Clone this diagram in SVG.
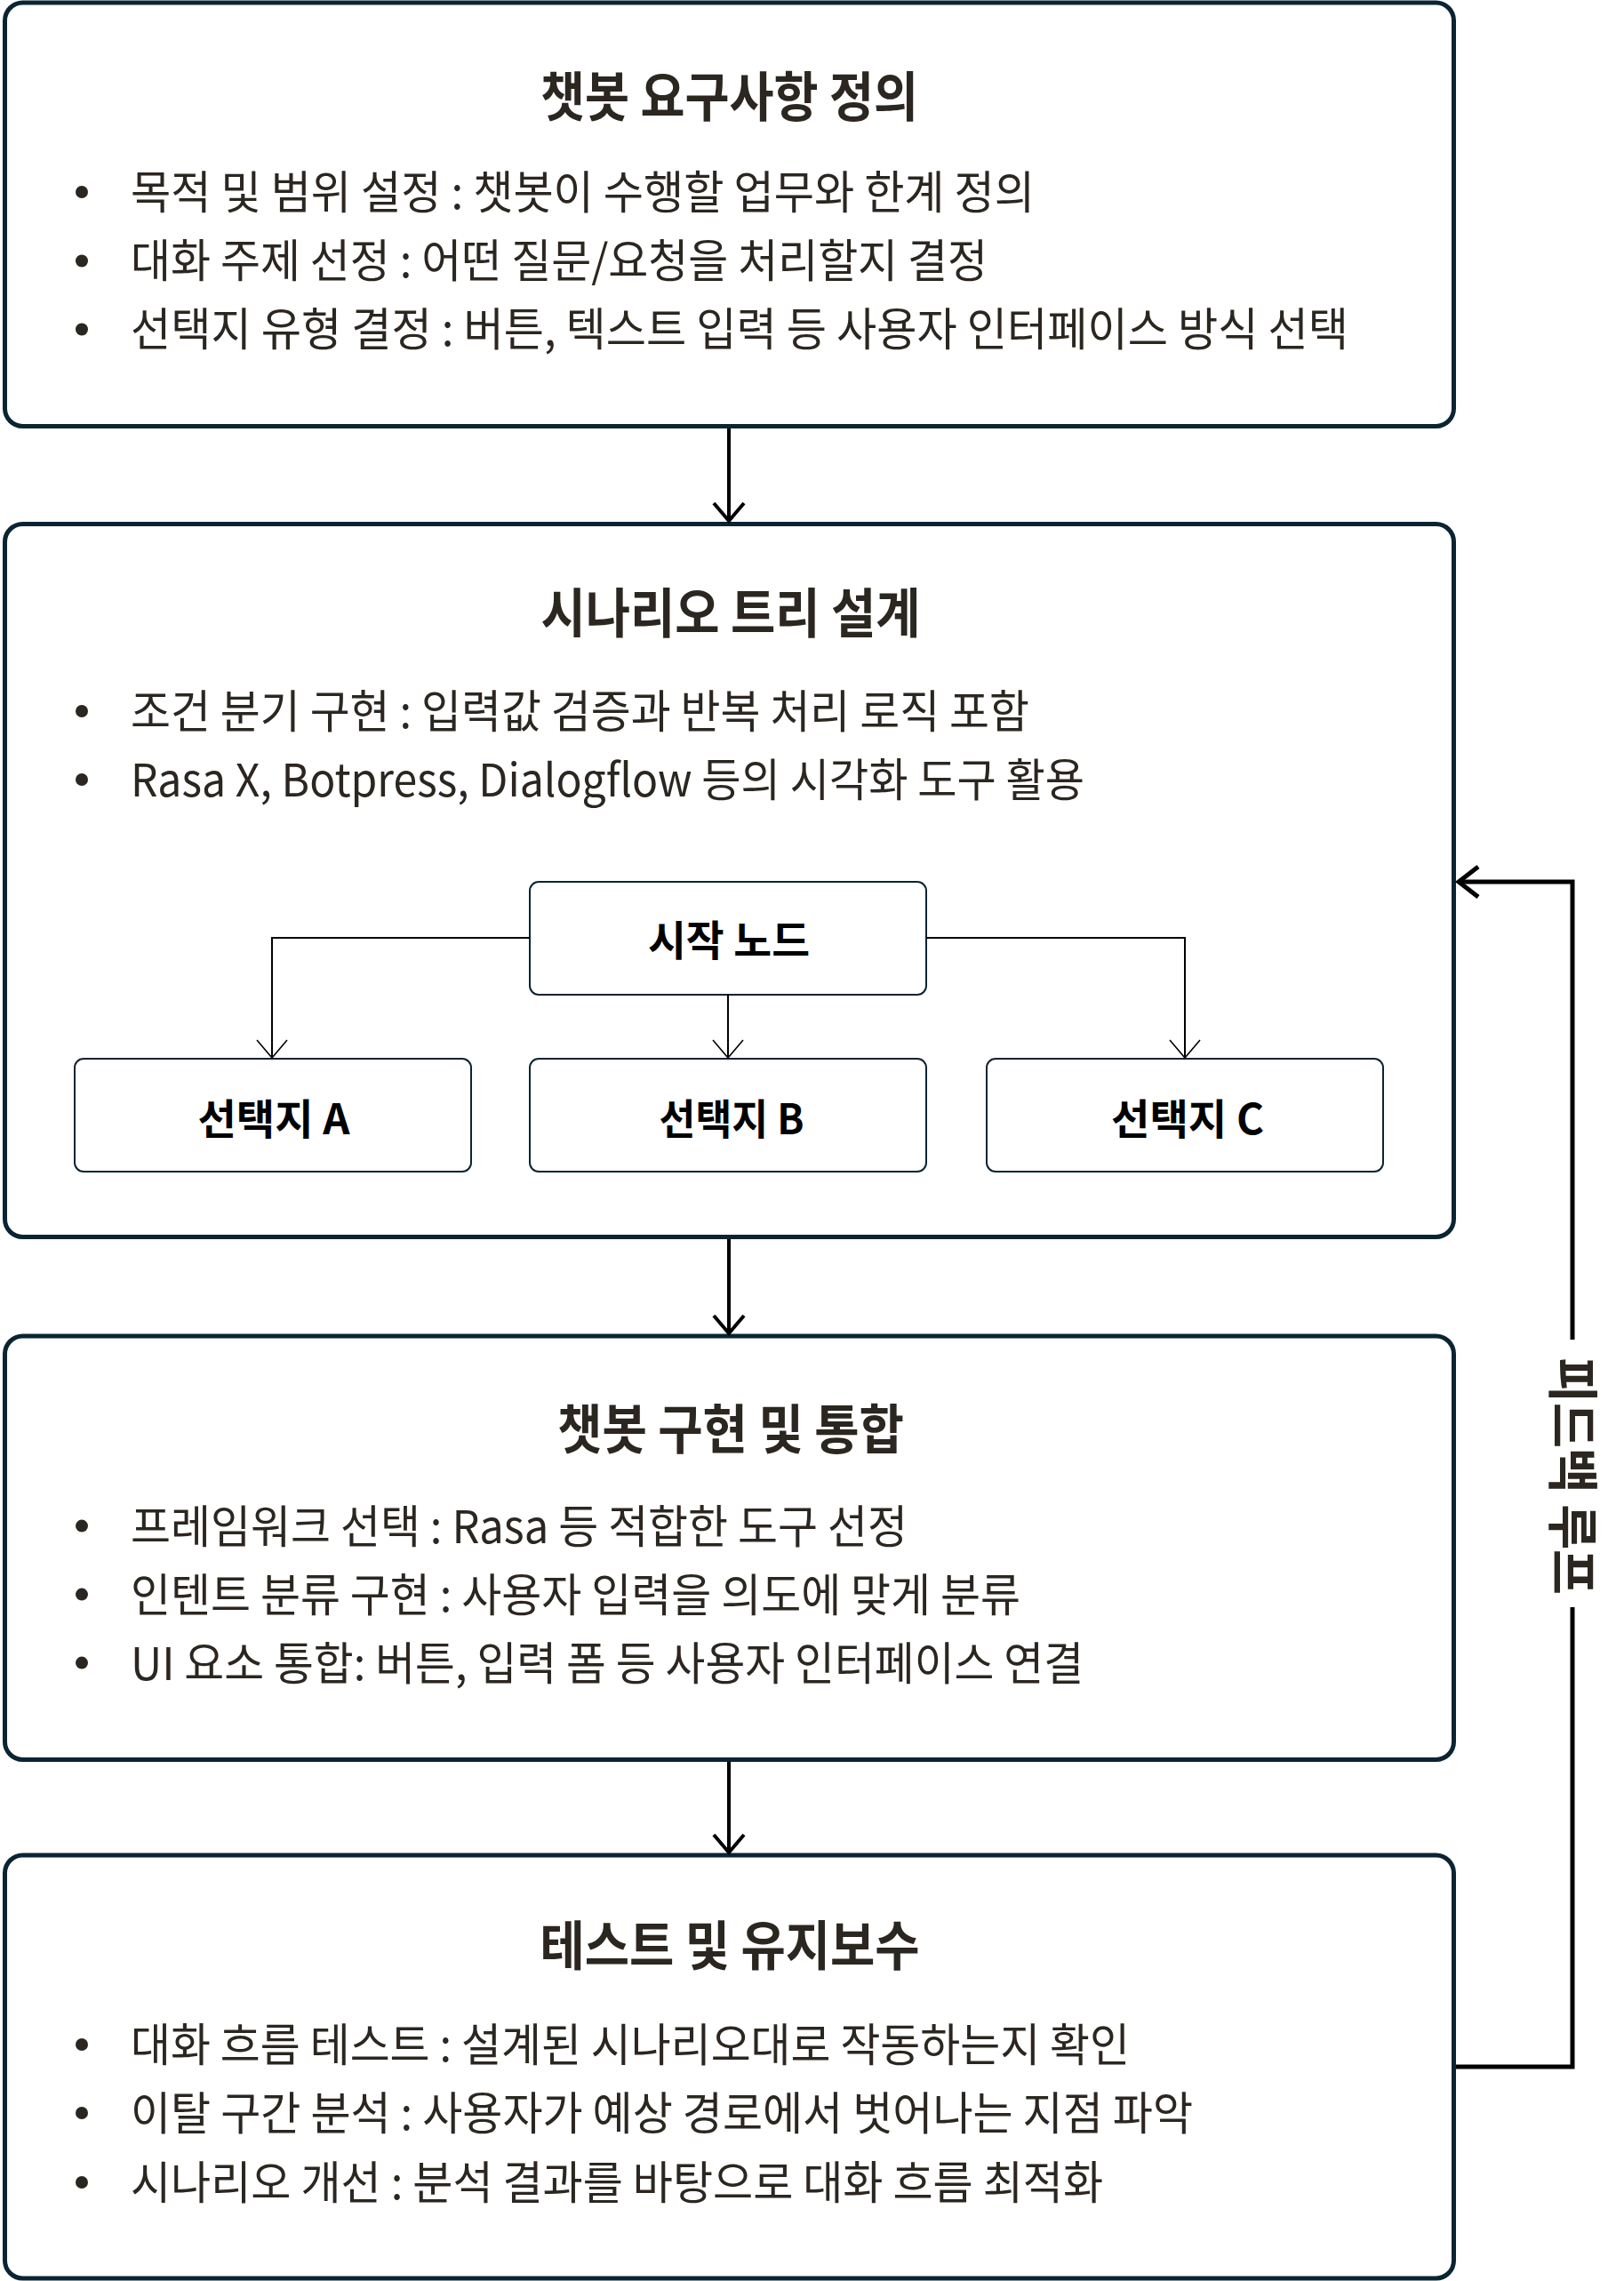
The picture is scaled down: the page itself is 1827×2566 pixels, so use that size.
<svg xmlns="http://www.w3.org/2000/svg" width="1827" height="2566" viewBox="0 0 1827 2566">
  <defs>
    <style>
      .box { fill: #ffffff; stroke: #0b2433; stroke-width: 5; }
      .sbox { fill: #ffffff; stroke: #0b2433; stroke-width: 2; }
      .title { font-family: "Noto Sans CJK KR", "Noto Sans", sans-serif; font-weight: 700; font-size: 60px; fill: #2b2620; text-anchor: middle; }
      .node { font-family: "Noto Sans CJK KR", "Noto Sans", sans-serif; font-weight: 700; font-size: 47px; fill: #000000; text-anchor: middle; }
      .body { font-family: "Noto Sans CJK KR", "Noto Sans", sans-serif; font-weight: 400; font-size: 51px; fill: #2b2620; }
      .label { font-family: "Noto Sans CJK KR", "Noto Sans", sans-serif; font-weight: 700; font-size: 58px; fill: #2b2620; text-anchor: middle; }
      .dot { fill: #2b2620; }
      .thick { stroke: #000000; stroke-width: 4; fill: none; }
      .thin { stroke: #000000; stroke-width: 2; fill: none; }
      .loop { stroke: #000000; stroke-width: 5; fill: none; }
    </style>
    <marker id="arrowThick" markerUnits="userSpaceOnUse" markerWidth="30" markerHeight="44" refX="24" refY="22" orient="auto" overflow="visible">
      <path d="M4,5 L24,22 L4,39" fill="none" stroke="#000000" stroke-width="4"/>
    </marker>
    <marker id="arrowThin" markerUnits="userSpaceOnUse" markerWidth="30" markerHeight="44" refX="22" refY="22" orient="auto" overflow="visible">
      <path d="M2,5 L22,22 L2,39" fill="none" stroke="#000000" stroke-width="1.6"/>
    </marker>
    <marker id="arrowLoop" markerUnits="userSpaceOnUse" markerWidth="30" markerHeight="44" refX="25" refY="22" orient="auto" overflow="visible">
      <path d="M3,5 L25,22 L3,39" fill="none" stroke="#000000" stroke-width="5"/>
    </marker>
  </defs>

  <rect x="0" y="0" width="1827" height="2566" fill="#ffffff"/>

  <g id="box-requirements">
    <rect class="box" x="5.5" y="3" width="1630" height="476.5" rx="20"/>
    <text class="title" x="820.5" y="131" textLength="425" lengthAdjust="spacingAndGlyphs">챗봇 요구사항 정의</text>
    <circle class="dot" cx="92" cy="216" r="7"/>
    <text class="body" x="147" y="235" textLength="1017" lengthAdjust="spacingAndGlyphs">목적 및 범위 설정 : 챗봇이 수행할 업무와 한계 정의</text>
    <circle class="dot" cx="92" cy="293.5" r="7"/>
    <text class="body" x="147" y="312" textLength="964" lengthAdjust="spacingAndGlyphs">대화 주제 선정 : 어떤 질문/요청을 처리할지 결정</text>
    <circle class="dot" cx="92" cy="370.5" r="7"/>
    <text class="body" x="147" y="389" textLength="1370" lengthAdjust="spacingAndGlyphs">선택지 유형 결정 : 버튼, 텍스트 입력 등 사용자 인터페이스 방식 선택</text>
  </g>

  <g id="box-scenario">
    <rect class="box" x="5.5" y="589.5" width="1630" height="802" rx="20"/>
    <text class="title" x="822" y="712" textLength="427" lengthAdjust="spacingAndGlyphs">시나리오 트리 설계</text>
    <circle class="dot" cx="92" cy="800" r="7"/>
    <text class="body" x="147" y="819" textLength="1011" lengthAdjust="spacingAndGlyphs">조건 분기 구현 : 입력값 검증과 반복 처리 로직 포함</text>
    <circle class="dot" cx="92" cy="877" r="7"/>
    <text class="body" x="147" y="896" textLength="1073" lengthAdjust="spacingAndGlyphs">Rasa X, Botpress, Dialogflow 등의 시각화 도구 활용</text>
  </g>

  <g id="node-start">
    <rect class="sbox" x="596" y="992" width="446" height="127" rx="10"/>
    <text class="node" x="820" y="1075" textLength="182" lengthAdjust="spacingAndGlyphs">시작 노드</text>
  </g>
  <g id="node-choice-a">
    <rect class="sbox" x="84" y="1191" width="446" height="127" rx="10"/>
    <text class="node" x="308" y="1276" textLength="171" lengthAdjust="spacingAndGlyphs">선택지 A</text>
  </g>
  <g id="node-choice-b">
    <rect class="sbox" x="596" y="1191" width="446" height="127" rx="10"/>
    <text class="node" x="823" y="1276" textLength="163" lengthAdjust="spacingAndGlyphs">선택지 B</text>
  </g>
  <g id="node-choice-c">
    <rect class="sbox" x="1110" y="1191" width="446" height="127" rx="10"/>
    <text class="node" x="1336" y="1276" textLength="172" lengthAdjust="spacingAndGlyphs">선택지 C</text>
  </g>

  <g id="box-implementation">
    <rect class="box" x="5.5" y="1503" width="1630" height="476.5" rx="20"/>
    <text class="title" x="822" y="1630" textLength="390" lengthAdjust="spacingAndGlyphs">챗봇 구현 및 통합</text>
    <circle class="dot" cx="92" cy="1716.6" r="7"/>
    <text class="body" x="147" y="1735.6" textLength="874" lengthAdjust="spacingAndGlyphs">프레임워크 선택 : Rasa 등 적합한 도구 선정</text>
    <circle class="dot" cx="92" cy="1793.6" r="7"/>
    <text class="body" x="147" y="1812.6" textLength="1001" lengthAdjust="spacingAndGlyphs">인텐트 분류 구현 : 사용자 입력을 의도에 맞게 분류</text>
    <circle class="dot" cx="92" cy="1870.6" r="7"/>
    <text class="body" x="147" y="1889.6" textLength="1072" lengthAdjust="spacingAndGlyphs">UI 요소 통합: 버튼, 입력 폼 등 사용자 인터페이스 연결</text>
  </g>

  <g id="box-testing">
    <rect class="box" x="5.5" y="2087" width="1630" height="476" rx="20"/>
    <text class="title" x="821" y="2211" textLength="427" lengthAdjust="spacingAndGlyphs">테스트 및 유지보수</text>
    <circle class="dot" cx="92" cy="2300" r="7"/>
    <text class="body" x="147" y="2319" textLength="1124" lengthAdjust="spacingAndGlyphs">대화 흐름 테스트 : 설계된 시나리오대로 작동하는지 확인</text>
    <circle class="dot" cx="92" cy="2377" r="7"/>
    <text class="body" x="147" y="2396" textLength="1195" lengthAdjust="spacingAndGlyphs">이탈 구간 분석 : 사용자가 예상 경로에서 벗어나는 지점 파악</text>
    <circle class="dot" cx="92" cy="2455" r="7"/>
    <text class="body" x="147" y="2474" textLength="1094" lengthAdjust="spacingAndGlyphs">시나리오 개선 : 분석 결과를 바탕으로 대화 흐름 최적화</text>
  </g>

  <g id="connectors">
    <line class="thick" x1="820" y1="482" x2="820" y2="586" marker-end="url(#arrowThick)"/>
    <line class="thick" x1="820" y1="1394" x2="820" y2="1500" marker-end="url(#arrowThick)"/>
    <line class="thick" x1="820" y1="1982" x2="820" y2="2084" marker-end="url(#arrowThick)"/>
    <path class="thin" d="M596,1055 H306 V1190" marker-end="url(#arrowThin)"/>
    <path class="thin" d="M819,1119 V1190" marker-end="url(#arrowThin)"/>
    <path class="thin" d="M1042,1055 H1333 V1190" marker-end="url(#arrowThin)"/>
    <path class="loop" d="M1638,2325 H1769 V1808"/>
    <path class="loop" d="M1769,1507 V992 H1641" marker-end="url(#arrowLoop)"/>
    <text class="label" transform="translate(1769,1660.5) rotate(90)" x="0" y="21" textLength="267" lengthAdjust="spacingAndGlyphs">피드백 루프</text>
  </g>
</svg>
